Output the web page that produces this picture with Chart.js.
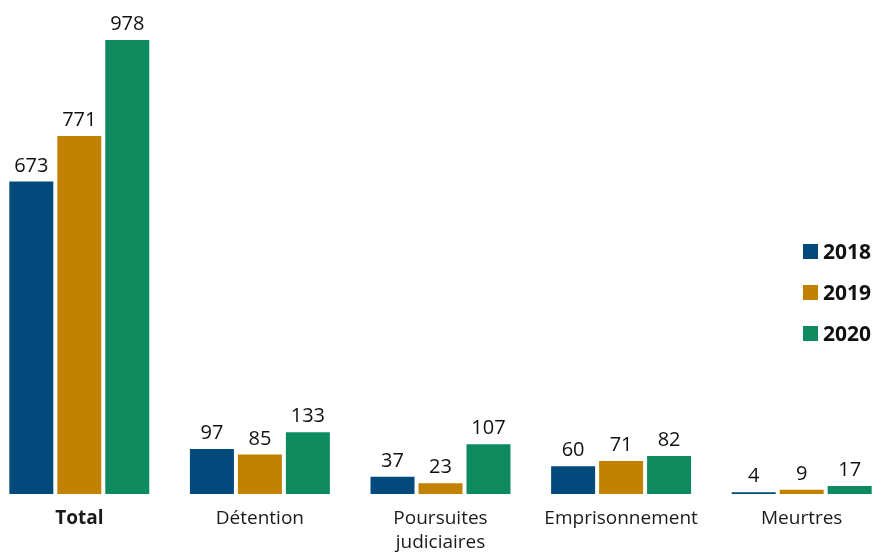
<!DOCTYPE html>
<html lang="fr">
<head>
<meta charset="utf-8">
<script src="https://cdn.jsdelivr.net/npm/chart.js@4"></script>
<style>
  html, body { margin: 0; padding: 0; background: #fff; overflow: hidden; width: 878px; height: 552px; }
  #wrap { position: absolute; left: -11px; top: 0; width: 903px; height: 552px; }
  #legend { position: absolute; left: 803px; top: 0; font-family: "Open Sans", sans-serif; font-weight: bold; font-size: 21px; color: #111; }
  .item { position: absolute; left: 0; display: flex; align-items: center; white-space: nowrap; height: 24px; }
  .sw { width: 15px; height: 15px; margin-right: 5px; }
</style>
</head>
<body>
<div id="wrap"><canvas id="c"></canvas></div>
<div id="legend"></div>
<script>
const categories = ["Total", "Détention", ["Poursuites", "judiciaires"], "Emprisonnement", "Meurtres"];
const years = ["2018", "2019", "2020"];
const values2018 = [673, 97, 37, 60, 4];
const values2019 = [771, 85, 23, 71, 9];
const values2020 = [978, 133, 107, 82, 17];
const colors = ["#024a7b", "#c28200", "#0d8b5f"];

const seriesValues = [values2018, values2019, values2020];
const FONT = '"Open Sans", sans-serif';

// value labels above each bar
const valueLabels = {
  id: 'valueLabels',
  afterDatasetsDraw(chart) {
    const ctx = chart.ctx;
    ctx.save();
    ctx.font = '500 20px ' + FONT;
    ctx.fillStyle = '#111';
    ctx.textAlign = 'center';
    ctx.textBaseline = 'alphabetic';
    chart.data.datasets.forEach((ds, i) => {
      chart.getDatasetMeta(i).data.forEach((bar, j) => {
        ctx.fillText(String(ds.data[j]), bar.x, bar.y - 10);
      });
    });
    ctx.restore();
  }
};

new Chart(document.getElementById('c'), {
  type: 'bar',
  data: {
    labels: categories,
    datasets: years.map((y, i) => ({
      label: y,
      data: seriesValues[i],
      backgroundColor: colors[i],
      borderWidth: 0,
      categoryPercentage: 0.797,
      barPercentage: 0.917
    }))
  },
  options: {
    responsive: true,
    maintainAspectRatio: false,
    animation: false,
    layout: { padding: 0 },
    plugins: { legend: { display: false }, tooltip: { enabled: false } },
    scales: {
      y: { display: false, min: 0, max: 1064 },
      x: {
        grid: { display: false, drawTicks: false },
        border: { display: false },
        afterFit(scale) { scale.height = 58; },
        ticks: {
          padding: 13,
          color: '#1a1a1a',
          maxRotation: 0,
          autoSkip: false,
          font: (c) => ({ family: FONT, size: 19, weight: c.index === 0 ? 'bold' : 'normal', lineHeight: 1.25 })
        }
      }
    }
  },
  plugins: [valueLabels]
});

// legend overlay
const legend = document.getElementById('legend');
const rowCenters = [251, 292, 333];
years.forEach((y, i) => {
  const item = document.createElement('div');
  item.className = 'item';
  item.style.top = (rowCenters[i] - 12) + 'px';
  const sw = document.createElement('span');
  sw.className = 'sw';
  sw.style.background = colors[i];
  const t = document.createElement('span');
  t.textContent = y;
  item.appendChild(sw);
  item.appendChild(t);
  legend.appendChild(item);
});
</script>
</body>
</html>
